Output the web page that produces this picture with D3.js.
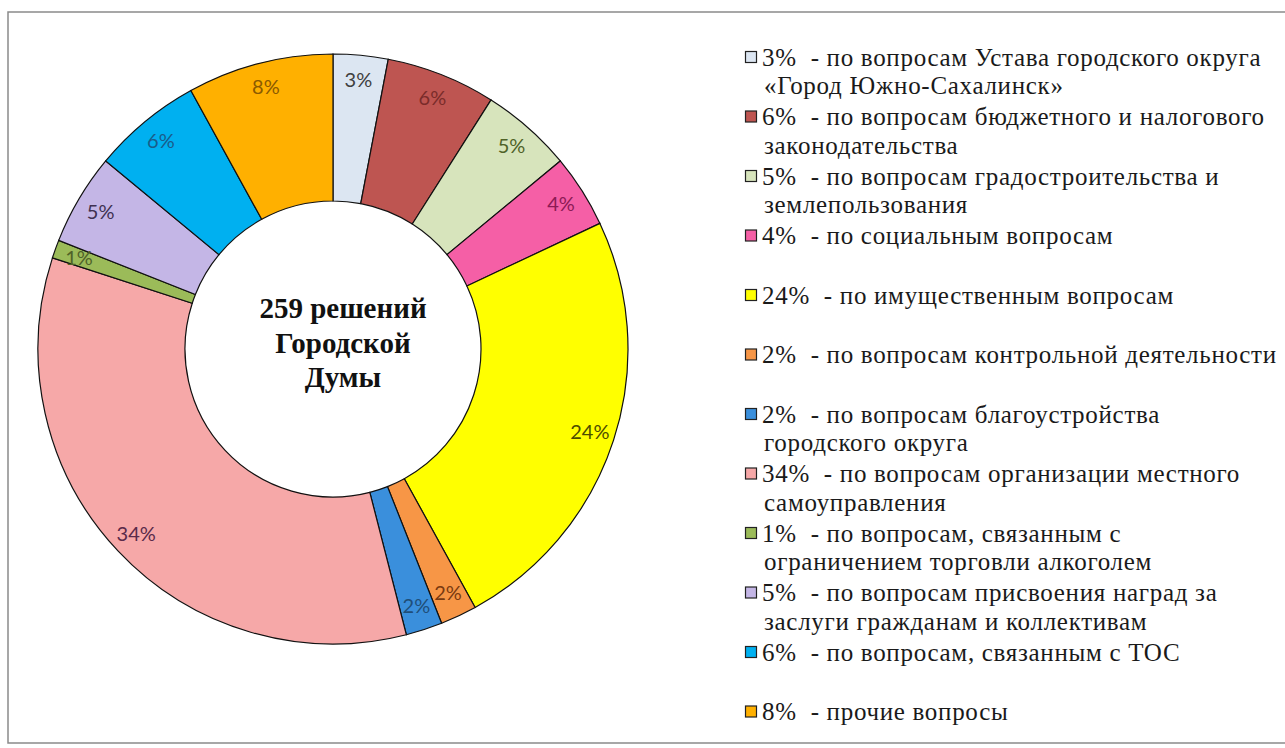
<!DOCTYPE html>
<html>
<head>
<meta charset="utf-8">
<script src="https://cdn.jsdelivr.net/npm/d3@7"></script>
<style>
  body { margin: 0; background: #fff; }
  .legend text { font-family: "Liberation Serif", "Times New Roman", serif; }
</style>
</head>
<body>
<div id="chart"></div>
<script>
// shares of decisions, clockwise from the top
var values = [3, 6, 5, 4, 24, 2, 2, 34, 1, 5, 6, 8];
var sliceColors = ["#DCE6F2", "#BE5551", "#D7E4BC", "#F55FA6", "#FFFF00", "#F79646",
                   "#3A8FDC", "#F6A8A8", "#9BBB59", "#C4B6E6", "#00B0F0", "#FFB000"];
var labelColors = ["#404040", "#7A2C2A", "#4F6228", "#8C1A55", "#4D4D00", "#7A3A10",
                   "#1F4E79", "#5A2A4A", "#4F6228", "#3F3151", "#1A5C8A", "#8A5A00"];
var legendLines = [
  ["3%  - по вопросам Устава городского округа", "«Город Южно-Сахалинск»"],
  ["6%  - по вопросам бюджетного и налогового", "законодательства"],
  ["5%  - по вопросам градостроительства и", "землепользования"],
  ["4%  - по социальным вопросам"],
  ["24%  - по имущественным вопросам"],
  ["2%  - по вопросам контрольной деятельности"],
  ["2%  - по вопросам благоустройства", "городского округа"],
  ["34%  - по вопросам организации местного", "самоуправления"],
  ["1%  - по вопросам, связанным с", "ограничением торговли алкоголем"],
  ["5%  - по вопросам присвоения наград за", "заслуги гражданам и коллективам"],
  ["6%  - по вопросам, связанным с ТОС"],
  ["8%  - прочие вопросы"]
];
var centerLines = ["259 решений", "Городской", "Думы"];

var width = 1285, height = 748;
var cx = 333, cy = 349, outerR = 295, innerR = 148, labelR = 270;

var svg = d3.select("#chart")
  .append("svg")
    .attr("width", width)
    .attr("height", height);

// frame
svg.append("rect")
  .attr("x", 8).attr("y", 12)
  .attr("width", 1290).attr("height", 731)
  .attr("fill", "none")
  .attr("stroke", "#8a8a8a")
  .attr("stroke-width", 1.5);

var pie = d3.pie().sort(null).value(function(d) { return d; });
var arcs = pie(values);

var arc = d3.arc().innerRadius(innerR).outerRadius(outerR);

var g = svg.append("g")
  .attr("transform", "translate(" + cx + "," + cy + ")");

g.selectAll("path.slice")
  .data(arcs)
  .enter()
  .append("path")
    .attr("class", "slice")
    .attr("d", arc)
    .attr("fill", function(d, i) { return sliceColors[i]; })
    .attr("stroke", "#111")
    .attr("stroke-width", 1.2);

// percentage labels near the outer rim
g.selectAll("text.pct")
  .data(arcs)
  .enter()
  .append("text")
    .attr("class", "pct")
    .attr("transform", function(d) {
      var a = (d.startAngle + d.endAngle) / 2;
      return "translate(" + (Math.sin(a) * labelR) + "," + (-Math.cos(a) * labelR) + ")";
    })
    .attr("text-anchor", "middle")
    .attr("dy", "0.35em")
    .style("font-family", "Lato, 'Open Sans', sans-serif")
    .style("font-size", "20px")
    .style("fill", function(d, i) { return labelColors[i]; })
    .text(function(d) { return d.value + "%"; });

// centre caption
g.selectAll("text.center")
  .data(centerLines)
  .enter()
  .append("text")
    .attr("class", "center")
    .attr("x", 10)
    .attr("y", function(d, i) { return -41 + i * 34.5; })
    .attr("dy", "0.35em")
    .attr("text-anchor", "middle")
    .style("font-family", "'Liberation Serif', 'Times New Roman', serif")
    .style("font-weight", "bold")
    .style("font-size", "29px")
    .style("fill", "#111")
    .text(function(d) { return d; });

// legend
var legend = svg.append("g")
  .attr("class", "legend")
  .attr("transform", "translate(745,57)");

var item = legend.selectAll("g.item")
  .data(legendLines)
  .enter()
  .append("g")
    .attr("class", "item")
    .attr("transform", function(d, i) { return "translate(0," + (i * 59.5) + ")"; });

item.append("rect")
  .attr("x", 0.5).attr("y", -5.5)
  .attr("width", 11).attr("height", 11)
  .attr("fill", function(d, i) { return sliceColors[i]; })
  .attr("stroke", "#222")
  .attr("stroke-width", 1.2);

item.selectAll("text")
  .data(function(d) { return d; })
  .enter()
  .append("text")
    .attr("x", function(d, j) { return j == 0 ? 17 : 19; })
    .attr("y", function(d, j) { return j * 28.5; })
    .attr("dy", "0.35em")
    .style("font-size", "25px")
    .style("letter-spacing", "0.7px")
    .style("fill", "#1a1a1a")
    .style("white-space", "pre")
    .text(function(d) { return d; });
</script>
</body>
</html>
